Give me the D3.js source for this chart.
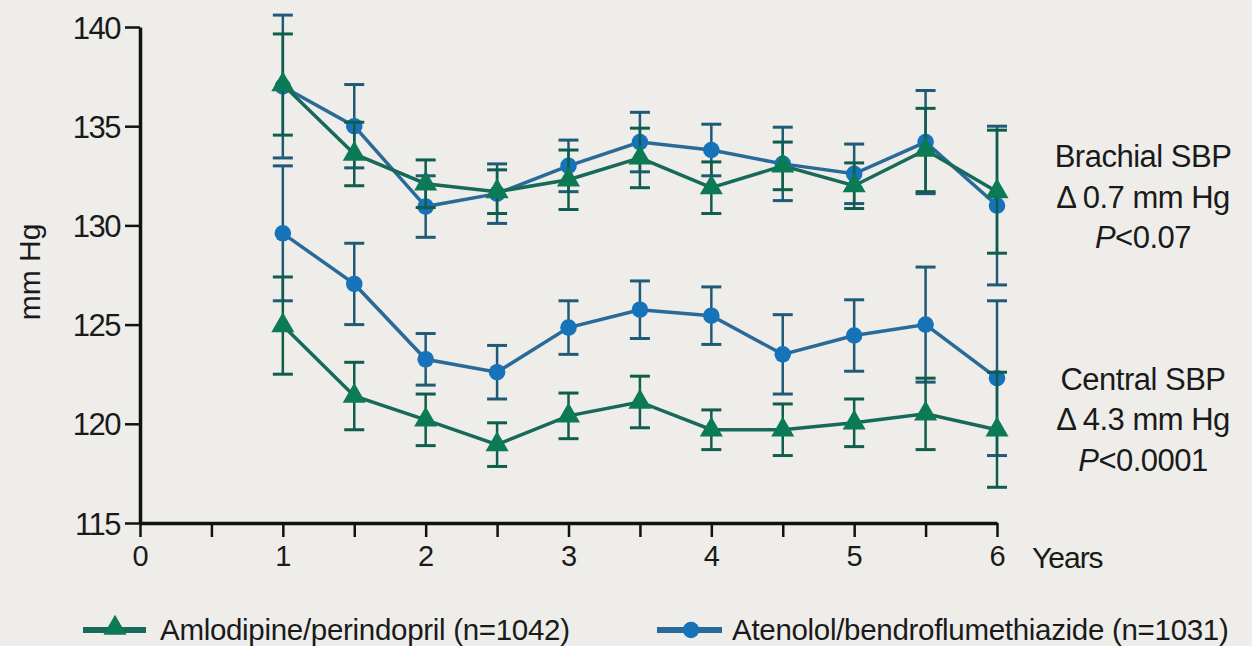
<!DOCTYPE html>
<html>
<head>
<meta charset="utf-8">
<script src="https://cdn.jsdelivr.net/npm/d3@7"></script>
<style>
  html, body { margin: 0; padding: 0; background: #efedea; }
  svg { display: block; }
  text { font-family: "Liberation Sans", Arial, Helvetica, sans-serif; fill: #1a1a1a; }
</style>
</head>
<body>
<svg id="chart" width="1252" height="646"></svg>
<script>
// ---- data ----
const years = [1, 1.5, 2, 2.5, 3, 3.5, 4, 4.5, 5, 5.5, 6];
const brachialAmlo    = [137.1, 133.6, 132.1, 131.7, 132.3, 133.4, 131.9, 133.0, 132.0, 133.8, 131.7];
const brachialAmloErr = [2.55, 1.6, 1.2, 1.1, 1.5, 1.5, 1.3, 1.2, 1.15, 2.1, 3.1];
const brachialAten    = [137.0, 135.0, 130.95, 131.6, 133.0, 134.2, 133.8, 133.1, 132.6, 134.2, 131.0];
const brachialAtenErr = [3.6, 2.1, 1.55, 1.5, 1.3, 1.5, 1.3, 1.85, 1.5, 2.6, 4.0];
const centralAmlo     = [124.95, 121.4, 120.2, 118.95, 120.4, 121.1, 119.7, 119.7, 120.05, 120.5, 119.7];
const centralAmloErr  = [2.45, 1.7, 1.3, 1.1, 1.15, 1.3, 1.0, 1.3, 1.2, 1.8, 2.9];
const centralAten     = [129.6, 127.05, 123.25, 122.6, 124.85, 125.75, 125.45, 123.5, 124.45, 125.0, 122.3];
const centralAtenErr  = [3.4, 2.05, 1.3, 1.35, 1.35, 1.45, 1.45, 2.0, 1.8, 2.9, 3.9];

const yTicks = [115, 120, 125, 130, 135, 140];
const xTicks = [0, 0.5, 1, 1.5, 2, 2.5, 3, 3.5, 4, 4.5, 5, 5.5, 6];
const yLabel = "mm Hg";
const xLabel = "Years";
const legendAmlo = "Amlodipine/perindopril (n=1042)";
const legendAten = "Atenolol/bendroflumethiazide (n=1031)";
const brachialNote = ["Brachial SBP", "\u0394 0.7 mm Hg", "<0.07"];
const centralNote  = ["Central SBP", "\u0394 4.3 mm Hg", "<0.0001"];

// ---- styling ----
const C = {
  atenMarker: "#1672b9", atenLine: "#2a6a98", atenErr: "#1f5a76",
  amloMarker: "#0b7a55", amloLine: "#17695a", amloErr: "#0f5d4c"
};

const svg = d3.select("#chart");
const x = d3.scaleLinear().domain([0, 6]).range([140, 997]);
const y = d3.scaleLinear().domain([115, 140]).range([523, 27]);

// axes
const yAxis = d3.axisLeft(y).tickValues(yTicks).tickSize(15).tickSizeOuter(0).tickPadding(5);
const gy = svg.append("g").attr("transform", `translate(${x(0)},0)`).call(yAxis);
gy.select(".domain").attr("stroke", "#111").attr("stroke-width", 3.5);
gy.selectAll(".tick line").attr("stroke", "#111").attr("stroke-width", 2.5);
gy.selectAll(".tick text").attr("font-size", 31).attr("letter-spacing", -1.5)
  .attr("fill", "#1a1a1a").attr("dy", "0.36em").style("font-family", '"Liberation Sans", Arial, sans-serif');

const xAxis = d3.axisBottom(x).tickValues(xTicks).tickSize(14).tickSizeOuter(0).tickPadding(8)
  .tickFormat(d => Number.isInteger(d) ? d : "");
const gx = svg.append("g").attr("transform", `translate(0,${y(115)})`).call(xAxis);
gx.select(".domain").attr("stroke", "#111").attr("stroke-width", 3.5);
gx.selectAll(".tick line").attr("stroke", "#111").attr("stroke-width", 2.5);
gx.selectAll(".tick text").attr("font-size", 29).attr("fill", "#1a1a1a")
  .style("font-family", '"Liberation Sans", Arial, sans-serif');

// axis labels
svg.append("text").attr("transform", `translate(40,272) rotate(-90)`)
  .attr("text-anchor", "middle").attr("font-size", 30).text(yLabel);
svg.append("text").attr("x", 1032).attr("y", 568).attr("font-size", 30)
  .attr("letter-spacing", -1).text(xLabel);

// series
const series = [
  { vals: brachialAten, err: brachialAtenErr, kind: "aten" },
  { vals: centralAten,  err: centralAtenErr,  kind: "aten" },
  { vals: brachialAmlo, err: brachialAmloErr, kind: "amlo" },
  { vals: centralAmlo,  err: centralAmloErr,  kind: "amlo" }
];
const line = d3.line().x(d => x(d.t)).y(d => y(d.v));
const triangle = d3.symbol().type(d3.symbolTriangle).size(230);
const circle = d3.symbol().type(d3.symbolCircle).size(215);

series.forEach(s => {
  const pts = years.map((t, i) => ({ t, v: s.vals[i], e: s.err[i] }));
  const errC = s.kind === "aten" ? C.atenErr : C.amloErr;
  const g = svg.append("g");
  // error bars
  const eb = g.selectAll(".eb").data(pts).enter().append("g");
  eb.append("line").attr("x1", d => x(d.t)).attr("x2", d => x(d.t))
    .attr("y1", d => y(d.v - d.e)).attr("y2", d => y(d.v + d.e))
    .attr("stroke", errC).attr("stroke-width", 2.5);
  [-1, 1].forEach(sg => {
    eb.append("line").attr("x1", d => x(d.t) - 10).attr("x2", d => x(d.t) + 10)
      .attr("y1", d => y(d.v + sg * d.e)).attr("y2", d => y(d.v + sg * d.e))
      .attr("stroke", errC).attr("stroke-width", 3);
  });
  g.append("path").datum(pts).attr("d", line).attr("fill", "none")
    .attr("stroke", s.kind === "aten" ? C.atenLine : C.amloLine).attr("stroke-width", 3.5);
  g.selectAll(".m").data(pts).enter().append("path")
    .attr("transform", d => `translate(${x(d.t)},${y(d.v)})`)
    .attr("d", s.kind === "aten" ? circle : triangle)
    .attr("fill", s.kind === "aten" ? C.atenMarker : C.amloMarker);
});

// annotations
function note(lines, x0, baselines) {
  lines.forEach((t, i) => {
    const tx = svg.append("text").attr("x", x0).attr("y", baselines[i])
      .attr("text-anchor", "middle").attr("font-size", 31).attr("letter-spacing", -0.5);
    if (i === 2) {
      tx.append("tspan").attr("font-style", "italic").text("P");
      tx.append("tspan").text(t);
    } else tx.text(t);
  });
}
note(brachialNote, 1143, [167, 208, 248]);
note(centralNote, 1143, [390, 430, 471]);

// legend
const lg = svg.append("g");
lg.append("line").attr("x1", 83).attr("x2", 146).attr("y1", 630).attr("y2", 630)
  .attr("stroke", C.amloLine).attr("stroke-width", 6);
lg.append("path").attr("transform", "translate(115,628)").attr("d", triangle).attr("fill", C.amloMarker);
lg.append("text").attr("x", 160).attr("y", 640).attr("font-size", 29.5).attr("letter-spacing", -0.3).text(legendAmlo);
lg.append("line").attr("x1", 657).attr("x2", 722).attr("y1", 630).attr("y2", 630)
  .attr("stroke", C.atenLine).attr("stroke-width", 6);
lg.append("path").attr("transform", "translate(691,630)").attr("d", circle).attr("fill", C.atenMarker);
lg.append("text").attr("x", 732).attr("y", 640).attr("font-size", 29.5).attr("letter-spacing", -0.3).text(legendAten);
</script>
</body>
</html>
